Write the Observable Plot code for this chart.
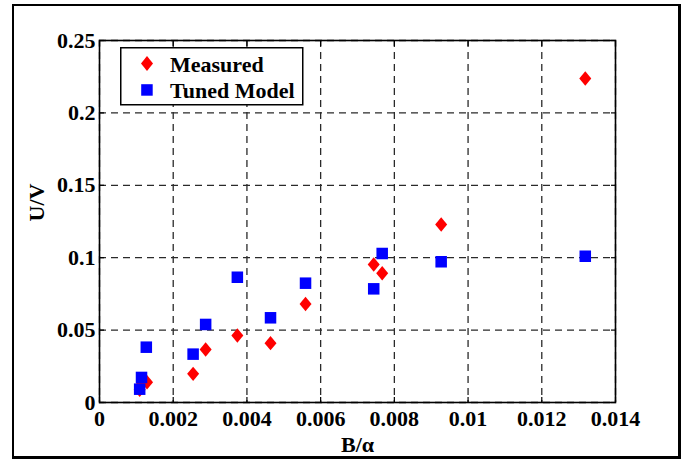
<!DOCTYPE html>
<html><head><meta charset="utf-8">
<script src="https://cdn.jsdelivr.net/npm/d3@7"></script>
<script src="https://cdn.jsdelivr.net/npm/@observablehq/plot@0.6"></script>
<style>
html,body{margin:0;padding:0;background:#fff;}
#wrap{position:relative;width:690px;height:461px;overflow:hidden;background:#fff;}
#border{position:absolute;left:12px;top:4px;width:669px;height:455px;box-sizing:border-box;border:2px solid #000;border-right-width:3px;border-bottom-width:3px;pointer-events:none;}
#legend{position:absolute;left:120px;top:47px;}
</style></head><body><div id="wrap"><div id="border"></div></div>
<script>
// B/alpha values (x)
const measuredX = [0.00109, 0.00114, 0.00129, 0.00254, 0.00288, 0.00374, 0.00464, 0.00559, 0.00744, 0.00767, 0.00927, 0.01318];
const measuredY = [0.0088, 0.0125, 0.0140, 0.0198, 0.0366, 0.0463, 0.0410, 0.0680, 0.0953, 0.0893, 0.1229, 0.2238];
const tunedX = [0.00109, 0.00114, 0.00127, 0.00254, 0.00288, 0.00374, 0.00464, 0.00559, 0.00744, 0.00767, 0.00927, 0.01318];
const tunedY = [0.0092, 0.0173, 0.0382, 0.0334, 0.0539, 0.0865, 0.0585, 0.0824, 0.0785, 0.1029, 0.0972, 0.1010];
const xTicks = [0, 0.002, 0.004, 0.006, 0.008, 0.010, 0.012, 0.014];
const xTickLabels = ["0", "0.002", "0.004", "0.006", "0.008", "0.01", "0.012", "0.014"];
const yTicks = [0, 0.05, 0.10, 0.15, 0.20, 0.25];
const yTickLabels = ["0", "0.05", "0.1", "0.15", "0.2", "0.25"];
const seriesNames = ["Measured", "Tuned Model"];
const xLabel = "B/\u03b1";
const yLabel = "U/V";

const measured = measuredX.map((x, i) => ({x, y: measuredY[i]}));
const tuned = tunedX.map((x, i) => ({x, y: tunedY[i]}));

const diamondSym = {draw(ctx, size) {
  const r = Math.sqrt(size / Math.PI);
  const w = r, h = r * 1.2;
  ctx.moveTo(0, -h); ctx.lineTo(w, 0); ctx.lineTo(0, h); ctx.lineTo(-w, 0); ctx.closePath();
}};

const font = "'Liberation Serif','Times New Roman',serif";
const xFmt = d => xTickLabels[xTicks.indexOf(d)];
const yFmt = d => yTickLabels[yTicks.indexOf(d)];
const grid = {stroke: "#2a2a2a", strokeOpacity: 1, strokeDasharray: "7,5", strokeWidth: 1.3};

const chart = Plot.plot({
  width: 690, height: 461,
  marginLeft: 99, marginRight: 75, marginTop: 40, marginBottom: 59,
  style: {fontFamily: font, fontWeight: "bold", fontSize: "22px", color: "#000", background: "transparent", overflow: "visible"},
  x: {domain: [0, 0.014], label: null},
  y: {domain: [0, 0.25], label: null},
  marks: [
    Plot.gridX(xTicks, grid),
    Plot.gridY(yTicks, grid),
    Plot.axisX(xTicks, {anchor: "bottom", tickSize: 0, tickPadding: 8, tickFormat: xFmt, label: null, fontSize: 22, fontWeight: "bold", fill: "#000"}),
    Plot.axisY(yTicks, {anchor: "left", tickSize: 0, tickPadding: 4, tickFormat: yFmt, label: null, fontSize: 22, fontWeight: "bold", fill: "#000"}),
    Plot.axisX(xTicks, {anchor: "bottom", tickSize: 5, dy: -5, fill: "none", label: null, strokeWidth: 1.2}),
    Plot.axisX(xTicks, {anchor: "top", tickSize: 5, dy: 5, fill: "none", label: null, strokeWidth: 1.2}),
    Plot.axisY(yTicks, {anchor: "left", tickSize: 5, dx: 5, fill: "none", label: null, strokeWidth: 1.2}),
    Plot.axisY(yTicks, {anchor: "right", tickSize: 5, dx: -5, fill: "none", label: null, strokeWidth: 1.2}),
    Plot.frame({stroke: "#000", strokeWidth: 1.6}),
    Plot.dot(measured, {x: "x", y: "y", r: 6, symbol: diamondSym, fill: "#ff0000", stroke: "none"}),
    Plot.dot(tuned, {x: "x", y: "y", r: 6.5, symbol: "square", fill: "#0000ff", stroke: "none"}),
    Plot.text([xLabel], {frameAnchor: "bottom", dy: 42, lineAnchor: "middle", fontSize: 22, fontWeight: "bold", fill: "#000"}),
    Plot.text([yLabel], {frameAnchor: "left", dx: -63, rotate: -90, lineAnchor: "middle", fontSize: 22, fontWeight: "bold", fill: "#000"})
  ]
});
const wrap = document.getElementById("wrap");
chart.style.position = "absolute";
chart.style.left = "0px";
chart.style.top = "0px";
wrap.insertBefore(chart, wrap.firstChild);

// Legend
const ns = "http://www.w3.org/2000/svg";
const leg = document.createElementNS(ns, "svg");
leg.setAttribute("id", "legend");
leg.setAttribute("width", 185);
leg.setAttribute("height", 60);
leg.innerHTML = `
<rect x="0.75" y="0.75" width="182" height="57" fill="#fff" stroke="#000" stroke-width="1.5"/>
<path d="M27,9 L33,16.5 L27,24 L21,16.5Z" fill="#ff0000"/>
<rect x="21.2" y="37.2" width="11.5" height="11.5" fill="#0000ff"/>
<text x="50" y="24.5" font-family="${font.replace(/'/g, "&quot;")}" font-weight="bold" font-size="22">${seriesNames[0]}</text>
<text x="50" y="51" font-family="${font.replace(/'/g, "&quot;")}" font-weight="bold" font-size="22">${seriesNames[1]}</text>`;
wrap.appendChild(leg);
</script>
</body></html>
